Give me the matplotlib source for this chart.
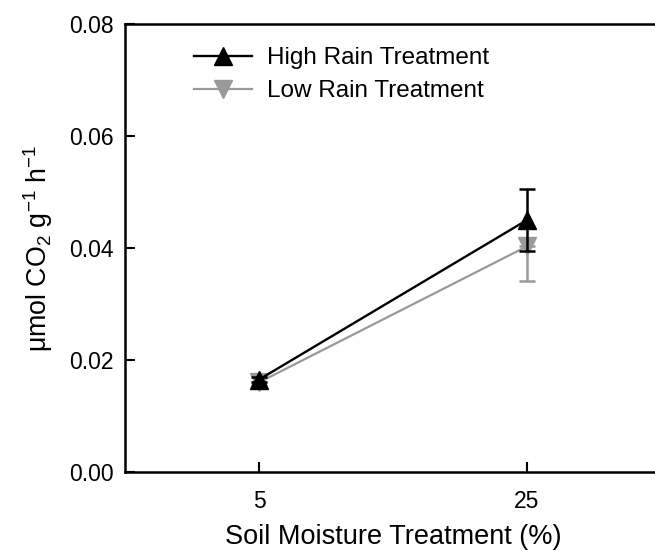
import matplotlib
matplotlib.use("Agg")
import matplotlib.pyplot as plt
from matplotlib.lines import Line2D
import numpy as np

plt.rcParams['font.family'] = ['Liberation Sans', 'DejaVu Sans']
plt.rcParams['mathtext.fontset'] = 'custom'
plt.rcParams['mathtext.rm'] = 'Liberation Sans'
plt.rcParams['mathtext.it'] = 'Liberation Sans'

categories = ["5", "25"]
high_rain = [0.0165, 0.045]
high_err = [0.0005, 0.0056]
low_rain = [0.0160, 0.0403]
low_err = [0.0005, 0.0062]
yticks = [0.00, 0.02, 0.04, 0.06, 0.08]

GRAY = '#999999'
fig = plt.figure(figsize=(6.55, 5.51), dpi=100)
ax = fig.add_axes([125/655, 79/551, 536/655, 448/551])

x = np.arange(1, len(categories) + 1)
# Low rain error bars drawn downward only (upper half hidden, as in the reference)
ax.errorbar(x, low_rain, yerr=[low_err, np.zeros(len(low_err))], color=GRAY, marker='v',
            markersize=13, linewidth=1.6, capsize=6, capthick=1.8, elinewidth=1.8, zorder=2)
ax.errorbar(x, high_rain, yerr=high_err, color='black', marker='^', markersize=13,
            linewidth=1.7, capsize=6, capthick=1.8, elinewidth=1.8, zorder=3)

ax.set_xlim(0.5, 2.5)
ax.set_ylim(0, 0.08)
ax.set_xticks(x)
ax.set_xticklabels(categories)
ax.set_yticks(yticks)
ax.set_yticklabels([f"{v:.2f}" for v in yticks])
ax.tick_params(direction='in', length=7, width=1.5, labelsize=16.5)
ax.tick_params(axis='x', pad=13)
ax.tick_params(axis='y', pad=8)
for s in ax.spines.values():
    s.set_linewidth(1.8)

ax.set_xlabel("Soil Moisture Treatment (%)", fontsize=19.5, labelpad=8)
ax.set_ylabel(r"μmol CO$_2$ g$^{-1}$ h$^{-1}$", fontsize=19.3, labelpad=10)

handles = [Line2D([], [], color='black', marker='^', markersize=13, linewidth=1.7),
           Line2D([], [], color=GRAY, marker='v', markersize=13, linewidth=1.6)]
labels = ["High Rain Treatment", "Low Rain Treatment"]
leg = ax.legend(handles, labels, loc='upper left', bbox_to_anchor=(0.11, 0.97),
                frameon=False, fontsize=17.5, handlelength=2.4, labelspacing=0.45,
                handletextpad=0.6, borderaxespad=0)

fig.savefig("out.png", dpi=100)
